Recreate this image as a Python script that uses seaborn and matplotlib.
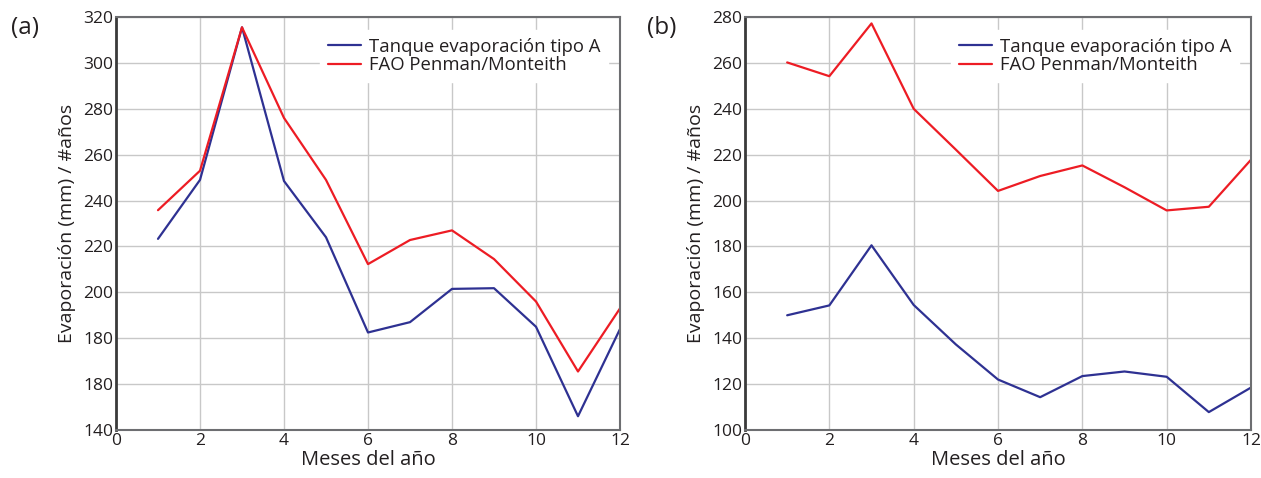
import numpy as np
import pandas as pd
import matplotlib
matplotlib.use("Agg")
import matplotlib.pyplot as plt
import seaborn as sns

# Datos
meses = [1, 2, 3, 4, 5, 6, 7, 8, 9, 10, 11, 12]

# (a)
tanque_a = [223.3, 249.0, 315.5, 248.5, 224.0, 182.5, 187.0, 201.5, 201.8, 185.0, 146.0, 184.0]
fao_a = [235.8, 253.0, 315.5, 276.0, 249.0, 212.3, 222.8, 227.0, 214.5, 196.0, 165.5, 193.0]

# (b)
tanque_b = [150.0, 154.3, 180.5, 154.5, 137.3, 122.0, 114.3, 123.5, 125.5, 123.2, 107.8, 118.5]
fao_b = [260.2, 254.2, 277.2, 240.0, 222.2, 204.2, 210.7, 215.3, 205.8, 195.7, 197.3, 217.8]

# etiquetas del eje y tal como aparecen en la figura original
yticks_a = [140, 160, 180, 200, 220, 240, 260, 280, 300, 320]
ylabels_a = ["140", "180", "180", "200", "220", "240", "260", "280", "300", "320"]
yticks_b = [100, 120, 140, 160, 180, 200, 220, 240, 260, 280]

serie_1 = "Tanque evaporación tipo A"
serie_2 = "FAO Penman/Monteith"

sns.set_style("white")
plt.rcParams["font.family"] = ["Open Sans", "DejaVu Sans"]

paleta = {serie_1: "#2e3192", serie_2: "#ed1c24"}

def armar_df(t, f):
    return pd.DataFrame({
        "mes": meses * 2,
        "valor": t + f,
        "serie": [serie_1] * len(meses) + [serie_2] * len(meses),
    })

fig = plt.figure(figsize=(12.61, 4.78), dpi=100)
ax1 = fig.add_axes([116 / 1261, 1 - 430 / 478, 504 / 1261, 413 / 478])
ax2 = fig.add_axes([745 / 1261, 1 - 430 / 478, 506 / 1261, 413 / 478])

paneles = [
    (ax1, armar_df(tanque_a, fao_a), (140, 320), yticks_a, ylabels_a, "(a)", 11),
    (ax2, armar_df(tanque_b, fao_b), (100, 280), yticks_b, [str(v) for v in yticks_b], "(b)", 647),
]

for ax, df, ylim, yt, yl, letra, xpix in paneles:
    sns.lineplot(data=df, x="mes", y="valor", hue="serie", palette=paleta,
                 linewidth=1.6, ax=ax)
    ax.set_xlim(0, 12)
    ax.set_ylim(*ylim)
    ax.set_xticks(range(0, 13, 2))
    ax.set_yticks(yt)
    ax.set_yticklabels(yl)
    ax.grid(True, color="#c8c8c8", linewidth=1.0)
    ax.set_axisbelow(True)
    ax.tick_params(length=0, labelsize=12.5, colors="#231f20", pad=2)
    for lado in ["top", "right", "bottom"]:
        ax.spines[lado].set_color("#6d6e71")
        ax.spines[lado].set_linewidth(1.5)
    ax.spines["left"].set_color("#3a3a3a")
    ax.spines["left"].set_linewidth(2.0)
    ax.set_xlabel("Meses del año", fontsize=14.5, color="#231f20", labelpad=1)
    ax.set_ylabel("Evaporación (mm) / #años", fontsize=14, color="#231f20", labelpad=5)
    leg = ax.legend(loc="upper right", bbox_to_anchor=(0.995, 0.99), fontsize=13.3,
                    frameon=True, framealpha=1.0, edgecolor="white", fancybox=False,
                    handlelength=1.8, handletextpad=0.45, labelspacing=0.02,
                    borderpad=0.4)
    for txt in leg.get_texts():
        txt.set_color("#231f20")
    fig.text(xpix / 1261, 1 - 16 / 478, letra, fontsize=17.5,
             color="#231f20", va="top", ha="left")

fig.savefig("out.png", dpi=100)
